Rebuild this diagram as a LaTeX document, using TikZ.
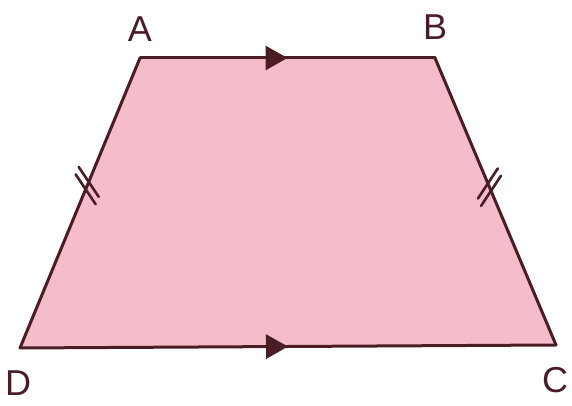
\documentclass[tikz,border=0pt]{standalone}
\usepackage{fontspec}
\setmainfont{Liberation Sans}
\usepackage{tikz}
\usetikzlibrary{arrows.meta,decorations.markings}
\definecolor{TZFill}{HTML}{F5BDCA}
\definecolor{TZLine}{HTML}{4A1C24}

\tikzset{
  tzside/.style={TZLine,line width=3pt,line cap=round},
  tzlabel/.style={TZLine,font=\fontsize{36}{36}\selectfont},
  tzarrow/.style={postaction={decorate},decoration={markings,
    mark=at position 0.5 with {\arrow{Triangle[length=22pt,width=24pt]}}}},
  tzticks/.style 2 args={postaction={decorate},decoration={markings,
    mark=at position #1 with {
      \draw[TZLine,line width=2.6pt] (-4pt-#2,-15pt) -- (-4pt+#2,15pt);
      \draw[TZLine,line width=2.6pt] (4pt-#2,-15pt) -- (4pt+#2,15pt);}}}
}

\begin{document}
\begin{tikzpicture}[x=1pt,y=1pt]
\path[use as bounding box] (0,0) rectangle (572,406);
\coordinate (A) at (140,348);
\coordinate (B) at (435,348);
\coordinate (C) at (556,61);
\coordinate (D) at (20,58);
\fill[TZFill] (A) -- (B) -- (C) -- (D) -- cycle;
% sides
\draw[tzside,tzarrow] (A) -- (B);
\draw[tzside,tzarrow] (D) -- (C);
\draw[tzside,tzticks={0.56}{10pt}] (D) -- (A);
\draw[tzside,tzticks={0.55}{-10pt}] (C) -- (B);
% vertex labels
\node[tzlabel] (lblA) at (140,377) {A};
\node[tzlabel] (lblB) at (435,379) {B};
\node[tzlabel] (lblC) at (555,26) {C};
\node[tzlabel] (lblD) at (18,23) {D};
\end{tikzpicture}
\end{document}
